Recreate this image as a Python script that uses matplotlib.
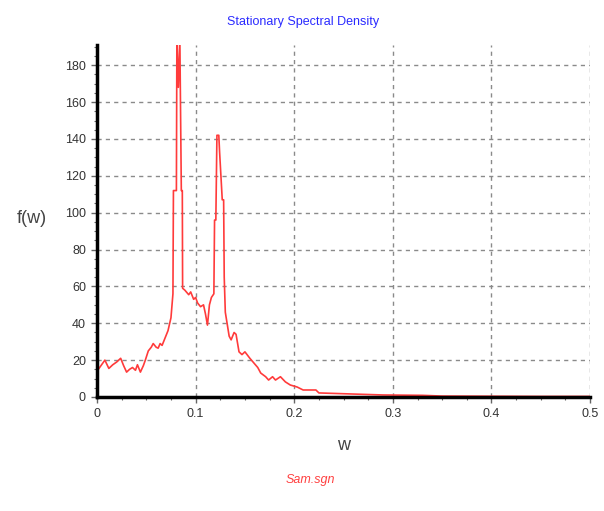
import matplotlib.pyplot as plt
from matplotlib.ticker import MultipleLocator

# spectral density (w, f(w))
w = [0.000, 0.004, 0.008, 0.012, 0.016, 0.020, 0.024, 0.027, 0.030, 0.033,
     0.036, 0.039, 0.041, 0.044, 0.047, 0.049, 0.052, 0.055, 0.057, 0.060,
     0.062, 0.064, 0.066, 0.069, 0.072, 0.075, 0.0770, 0.0775, 0.0805, 0.0810,
     0.0825, 0.0840, 0.0855, 0.0865, 0.0868, 0.089, 0.093, 0.095, 0.098, 0.100,
     0.102, 0.105, 0.108, 0.110, 0.112, 0.114, 0.116, 0.1185, 0.1192, 0.1205,
     0.1216, 0.1235, 0.1243, 0.1270, 0.1284, 0.1290, 0.1301, 0.134, 0.136, 0.139,
     0.141, 0.144, 0.147, 0.150, 0.155, 0.159, 0.163, 0.166, 0.171, 0.174,
     0.178, 0.181, 0.186, 0.191, 0.196, 0.203, 0.209, 0.222, 0.225, 0.26,
     0.29, 0.33, 0.35, 0.40, 0.45, 0.50]
fw = [14, 17, 20, 15.5, 17.5, 19, 21, 17, 13.5, 15,
      16, 14.5, 17.5, 13.5, 17, 20, 25, 27, 29, 27,
      26.5, 29, 28, 32, 36, 43, 56, 112, 112, 195,
      168, 195, 112, 112, 59, 58, 55.5, 57, 53, 54,
      51, 49, 50, 45, 39, 50, 54, 56, 96, 96,
      142, 142, 133, 107, 107, 65, 46, 33, 31, 35,
      34, 24.5, 23, 24.5, 21, 18.5, 16, 13, 11, 9.2,
      11, 9.2, 11, 8.2, 6.5, 5.4, 3.8, 3.8, 2.2, 1.6,
      1.1, 0.9, 0.5, 0.4, 0.3, 0.3]

xticks = [0, 0.1, 0.2, 0.3, 0.4, 0.5]
xticklabels = ["0", "0.1", "0.2", "0.3", "0.4", "0.5"]
yticks = [0, 20, 40, 60, 80, 100, 120, 140, 160, 180]

plt.rcParams['font.family'] = ['Liberation Sans', 'DejaVu Sans']

fig = plt.figure(figsize=(6.04, 5.11), dpi=100)
ax = fig.add_axes([0.1606, 0.2231, 0.8164, 0.6889])

for x in xticks[1:]:
    ax.axvline(x, color="#8a8a8a", lw=1, ls=(0, (3, 3)), zorder=1)
for y in yticks[1:]:
    ax.axhline(y, color="#8a8a8a", lw=1, ls=(0, (3, 3)), zorder=1)

ax.plot(w, fw, color="#ff3b3b", lw=1.2, zorder=2)

ax.set_xlim(0, 0.5)
ax.set_ylim(0, 191)
ax.set_xticks(xticks)
ax.set_xticklabels(xticklabels)
ax.set_yticks(yticks)
ax.xaxis.set_minor_locator(MultipleLocator(0.025))
ax.yaxis.set_minor_locator(MultipleLocator(5))

for s in ["top", "right"]:
    ax.spines[s].set_visible(False)
for s in ["left", "bottom"]:
    ax.spines[s].set_linewidth(2.5)
    ax.spines[s].set_color("black")
    ax.spines[s].set_zorder(3)

ax.tick_params(which="major", direction="out", length=4, width=1,
               color="#666666", labelsize=9, labelcolor="#333333", pad=4)
ax.tick_params(which="minor", direction="out", length=2, width=0.8,
               color="#666666")

fig.text(0.502, 0.957, "Stationary Spectral Density", color="#2a2aff",
         fontsize=9, ha="center", va="center")
fig.text(0.052, 0.573, "f(w)", color="#444444", fontsize=13,
         ha="center", va="center")
fig.text(0.568, 0.128, "w", color="#444444", fontsize=13,
         ha="center", va="center")
fig.text(0.514, 0.060, "Sam.sgn", color="#ff4040", fontsize=9,
         style="italic", ha="center", va="center")

plt.savefig("out.png", dpi=100)
